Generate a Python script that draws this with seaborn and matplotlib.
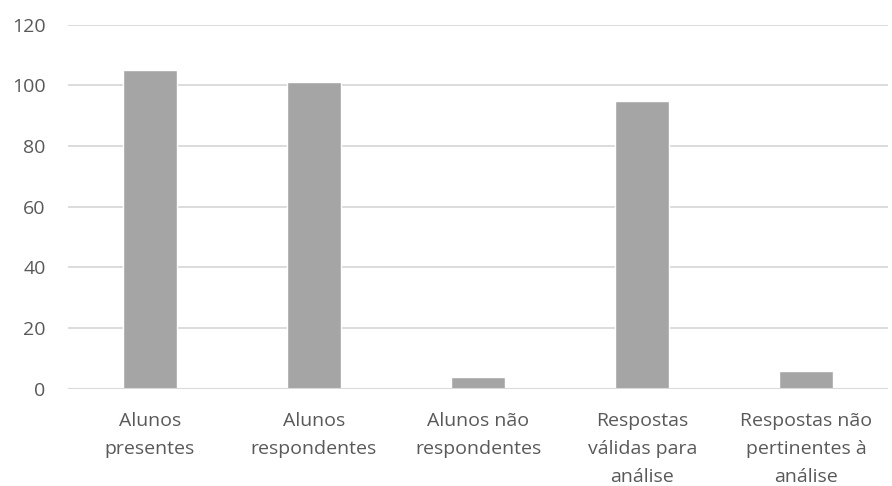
import pandas as pd
import matplotlib.pyplot as plt
import seaborn as sns

# Chart values
categories = ['Alunos\npresentes', 'Alunos\nrespondentes', 'Alunos não\nrespondentes',
              'Respostas\nválidas para\nanálise', 'Respostas não\npertinentes à\nanálise']
values = [105, 101, 4, 95, 6]
y_ticks = [0, 20, 40, 60, 80, 100, 120]

df = pd.DataFrame({'categoria': categories, 'valor': values})

sns.set_theme(style='white')
plt.rcParams['font.family'] = ['Open Sans', 'DejaVu Sans']

fig = plt.figure(figsize=(8.92, 4.86), dpi=100)
ax = fig.add_axes([0.076, 0.2, 0.92, 0.749])

sns.barplot(x='categoria', y='valor', data=df, color='#a5a5a5', saturation=1,
            width=0.33, ax=ax, zorder=3)

ax.set_ylim(0, 120)
ax.set_yticks(y_ticks)
ax.set_xlim(-0.5, len(categories) - 0.5)
ax.yaxis.grid(True, color='#d9d9d9', linewidth=1.3, zorder=0)
ax.set_axisbelow(True)
for side in ['top', 'right', 'left', 'bottom']:
    ax.spines[side].set_visible(False)
ax.axhline(0, color='#d9d9d9', linewidth=1.5, zorder=4)

ax.set_xlabel('')
ax.set_ylabel('')
ax.tick_params(axis='both', length=0, labelsize=14, labelcolor='#595959')
ax.tick_params(axis='x', pad=17)
ax.tick_params(axis='y', pad=16)
for lbl in ax.get_xticklabels():
    lbl.set_linespacing(1.7)

fig.savefig('out.png', dpi=100)
